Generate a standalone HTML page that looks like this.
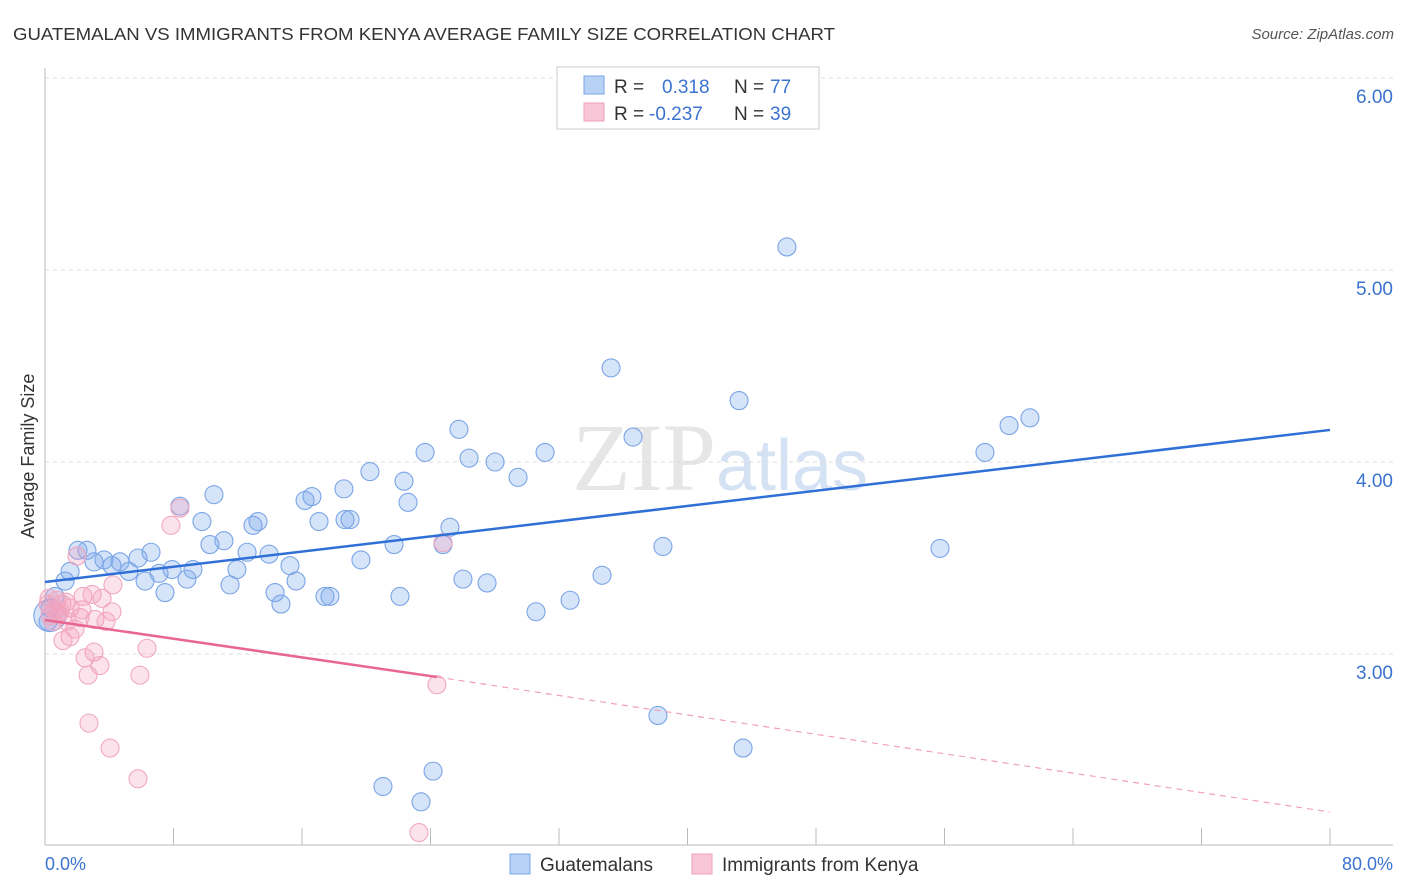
<!DOCTYPE html>
<html><head><meta charset="utf-8">
<style>
body{margin:0;background:#fff;font-family:"Liberation Sans",sans-serif;}
svg{display:block}
</style></head>
<body>
<svg id="chart" width="1406" height="892" xmlns="http://www.w3.org/2000/svg">
<text x="13" y="40" font-size="17.5" fill="#333" textLength="822" lengthAdjust="spacingAndGlyphs">GUATEMALAN VS IMMIGRANTS FROM KENYA AVERAGE FAMILY SIZE CORRELATION CHART</text>
<text x="1394" y="39" font-size="15" fill="#555" font-style="italic" text-anchor="end">Source: ZipAtlas.com</text>
<text transform="translate(34,456) rotate(-90)" font-size="18" fill="#333" text-anchor="middle">Average Family Size</text>
<text x="720" y="490" font-size="96" fill="#e6e6e6" text-anchor="middle" font-family="Liberation Serif,serif">ZIP<tspan fill="#d5e2f4" font-family="Liberation Sans,sans-serif" font-size="72">atlas</tspan></text>
<g id="grid"></g>
<g id="axes"></g>
<g id="pts"></g>
<g id="trend"></g>
<g>
<rect x="557" y="67" width="262" height="62" fill="#fff" stroke="#ccc"/>
<rect x="584" y="76" width="20" height="18" fill="#b8d2f6" stroke="#7aa5e6"/>
<rect x="584" y="103" width="20" height="18" fill="#f8c6d6" stroke="#eea0ba"/>
<text x="614" y="93" font-size="19" fill="#333">R =</text>
<text x="662" y="93" font-size="19" fill="#3b73d0">0.318</text>
<text x="734" y="93" font-size="19" fill="#333">N =</text>
<text x="770" y="93" font-size="19" fill="#3b73d0">77</text>
<text x="614" y="120" font-size="19" fill="#333">R =</text>
<text x="649" y="120" font-size="19" fill="#3b73d0">-0.237</text>
<text x="734" y="120" font-size="19" fill="#333">N =</text>
<text x="770" y="120" font-size="19" fill="#3b73d0">39</text>
</g>
<g>
<rect x="510" y="854" width="20" height="20" fill="#b8d2f6" stroke="#7aa5e6"/>
<text x="540" y="871" font-size="19" fill="#333">Guatemalans</text>
<rect x="692" y="854" width="20" height="20" fill="#f8c6d6" stroke="#eea0ba"/>
<text x="722" y="871" font-size="19" fill="#333">Immigrants from Kenya</text>
</g>
<text x="45" y="870" font-size="18" fill="#3b73d0">0.0%</text>
<text x="1393" y="870" font-size="18" fill="#3b73d0" text-anchor="end">80.0%</text>
</svg>
<script>
const yTicks=[3,4,5,6];
const yTickLabels=["3.00","4.00","5.00","6.00"];
const blueX=[46.19,35.24,43.21,61.32,60.02,25.77,36.61,23.66,31.13,58.52,26.40,28.02,20.23,29.45,22.35,10.52,18.61,16.62,16.19,22.60,8.40,9.77,17.06,13.26,12.95,18.99,18.68,25.21,11.14,10.27,38.47,55.72,21.73,24.78,2.05,2.61,6.60,12.58,13.95,5.79,3.67,4.67,3.05,4.17,19.67,15.25,11.95,5.23,7.91,7.10,9.21,1.56,34.68,6.23,8.84,26.02,27.52,15.63,11.52,1.25,7.47,14.32,17.43,17.74,22.10,32.69,14.69,30.57,0.62,0.31,0.19,38.16,43.46,24.16,21.04,23.41,0.3];
const blueY=[5.12,4.49,4.32,4.23,4.19,4.17,4.13,4.05,4.05,4.05,4.02,4.00,3.95,3.92,3.90,3.83,3.86,3.82,3.80,3.79,3.77,3.69,3.69,3.69,3.67,3.70,3.70,3.66,3.59,3.57,3.56,3.55,3.57,3.57,3.54,3.54,3.53,3.53,3.52,3.50,3.49,3.48,3.48,3.46,3.49,3.46,3.44,3.43,3.44,3.42,3.44,3.43,3.41,3.38,3.39,3.39,3.37,3.38,3.36,3.38,3.32,3.32,3.30,3.30,3.30,3.28,3.26,3.22,3.30,3.24,3.17,2.68,2.51,2.39,2.31,2.23,3.2];
const pinkX=[8.40,7.84,24.78,1.99,4.23,0.25,0.75,1.06,1.31,0.62,0.31,0.81,1.56,2.37,2.93,3.55,4.17,2.30,3.11,3.80,1.87,1.56,1.12,3.05,2.49,3.42,6.35,2.68,5.91,24.40,2.74,4.05,5.79,23.28,0.50,0.93,0.19,2.18,1.37];
const pinkY=[3.76,3.67,3.58,3.51,3.36,3.29,3.28,3.26,3.27,3.23,3.20,3.21,3.24,3.30,3.31,3.29,3.22,3.23,3.18,3.17,3.13,3.09,3.07,3.01,2.98,2.94,3.03,2.89,2.89,2.84,2.64,2.51,2.35,2.07,3.17,3.22,3.26,3.19,3.17];
const blueTrend=[[0,3.375],[80,4.167]];
const pinkTrend=[[0,3.177],[24.4,2.88],[80,2.177]];
const X=v=>45+v*1285/80;
const Y=v=>78+(6-v)*192;
const NS="http://www.w3.org/2000/svg";
function mk(tag,attrs,parent){const e=document.createElementNS(NS,tag);for(const k in attrs)e.setAttribute(k,attrs[k]);parent.appendChild(e);return e;}
const grid=document.getElementById('grid'),axes=document.getElementById('axes'),pts=document.getElementById('pts'),trend=document.getElementById('trend');
yTicks.forEach((t,i)=>{
  const l=mk('line',{x1:45,x2:1393,y1:Y(t),y2:Y(t),stroke:'#ddd','stroke-dasharray':'4,4'},grid);
  
  
  const tx=mk('text',{x:1393,y:Y(t)+25,'font-size':19,fill:'#3b73d0','text-anchor':'end'},grid);
  tx.textContent=yTickLabels[i];
  
  
});
let a=mk('line',{x1:45,x2:45,y1:68,y2:845,stroke:'#bbb'},axes);


a=mk('line',{x1:45,x2:1393,y1:845,y2:845,stroke:'#bbb'},axes);


for(let v=0;v<=80;v+=8){
  const t=mk('line',{x1:X(v),x2:X(v),y1:828,y2:845,stroke:'#bbb'},axes);
  
  
}
blueX.forEach((x,i)=>{
  const c=mk('circle',{cx:X(x),cy:Y(blueY[i]),r:i===blueX.length-1?16:9,fill:'rgba(120,165,235,0.3)',stroke:'#7aa5e6','stroke-width':1.1},pts);
  
  
});
pinkX.forEach((x,i)=>{
  const c=mk('circle',{cx:X(x),cy:Y(pinkY[i]),r:9,fill:'rgba(245,160,190,0.3)',stroke:'#f0a8c0','stroke-width':1.1},pts);
  
  
});
let tl=mk('line',{x1:X(blueTrend[0][0]),y1:Y(blueTrend[0][1]),x2:X(blueTrend[1][0]),y2:Y(blueTrend[1][1]),stroke:'#2f6fd6','stroke-width':2.5},trend);


tl=mk('line',{x1:X(pinkTrend[0][0]),y1:Y(pinkTrend[0][1]),x2:X(pinkTrend[1][0]),y2:Y(pinkTrend[1][1]),stroke:'#e8678f','stroke-width':2.5},trend);


tl=mk('line',{x1:X(pinkTrend[1][0]),y1:Y(pinkTrend[1][1]),x2:X(pinkTrend[2][0]),y2:Y(pinkTrend[2][1]),stroke:'#f0a0bc','stroke-width':1.2,'stroke-dasharray':'6,5'},trend);


</script>
</body></html>
